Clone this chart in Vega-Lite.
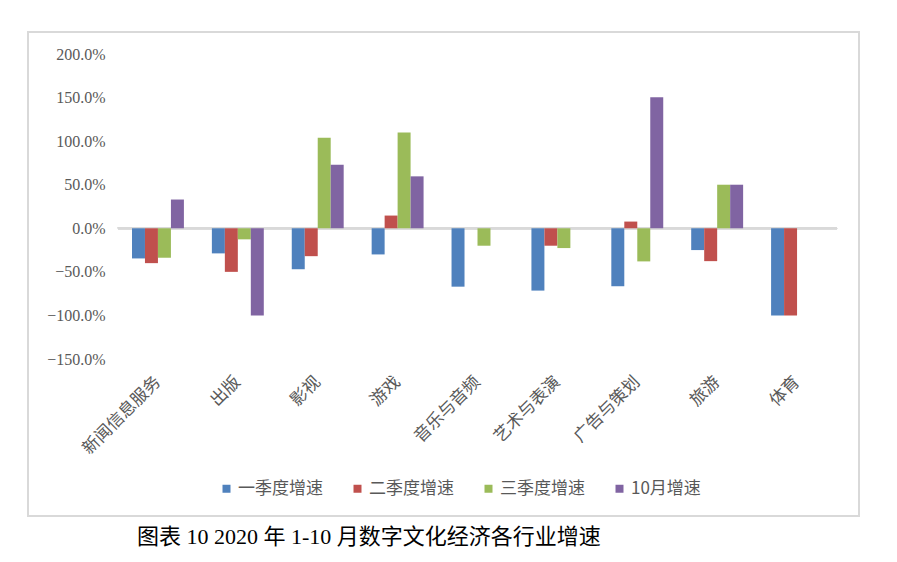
{
  "$schema": "https://vega.github.io/schema/vega-lite/v6.json",
  "width": 831,
  "height": 484,
  "autosize": {"type": "none"},
  "padding": {"left": 28, "top": 32, "right": 38, "bottom": 46},
  "background": "white",
  "config": {
    "view": {"stroke": "#d9d9d9", "strokeWidth": 2},
    "font": "Liberation Serif, Noto Sans CJK SC"
  },
  "title": {
    "text": "图表 10 2020 年 1-10 月数字文化经济各行业增速",
    "orient": "bottom",
    "anchor": "start",
    "dx": 109,
    "offset": 11,
    "fontSize": 22,
    "fontWeight": "normal",
    "font": "Liberation Serif, Noto Sans CJK SC",
    "color": "#000000"
  },
  "data": {
    "values": [
      {"行业": "新闻信息服务", "系列": "一季度增速", "增速": -34.6},
      {"行业": "新闻信息服务", "系列": "二季度增速", "增速": -40},
      {"行业": "新闻信息服务", "系列": "三季度增速", "增速": -33.8},
      {"行业": "新闻信息服务", "系列": "10月增速", "增速": 33},
      {"行业": "出版", "系列": "一季度增速", "增速": -28.8},
      {"行业": "出版", "系列": "二季度增速", "增速": -50},
      {"行业": "出版", "系列": "三季度增速", "增速": -12.7},
      {"行业": "出版", "系列": "10月增速", "增速": -100},
      {"行业": "影视", "系列": "一季度增速", "增速": -47},
      {"行业": "影视", "系列": "二季度增速", "增速": -32},
      {"行业": "影视", "系列": "三季度增速", "增速": 104},
      {"行业": "影视", "系列": "10月增速", "增速": 73},
      {"行业": "游戏", "系列": "一季度增速", "增速": -30},
      {"行业": "游戏", "系列": "二季度增速", "增速": 14.6},
      {"行业": "游戏", "系列": "三季度增速", "增速": 110},
      {"行业": "游戏", "系列": "10月增速", "增速": 59.6},
      {"行业": "音乐与音频", "系列": "一季度增速", "增速": -67},
      {"行业": "音乐与音频", "系列": "三季度增速", "增速": -20},
      {"行业": "艺术与表演", "系列": "一季度增速", "增速": -71.5},
      {"行业": "艺术与表演", "系列": "二季度增速", "增速": -20},
      {"行业": "艺术与表演", "系列": "三季度增速", "增速": -22.7},
      {"行业": "广告与策划", "系列": "一季度增速", "增速": -66.5},
      {"行业": "广告与策划", "系列": "二季度增速", "增速": 7.7},
      {"行业": "广告与策划", "系列": "三季度增速", "增速": -38},
      {"行业": "广告与策划", "系列": "10月增速", "增速": 150.4},
      {"行业": "旅游", "系列": "一季度增速", "增速": -25},
      {"行业": "旅游", "系列": "二季度增速", "增速": -37.7},
      {"行业": "旅游", "系列": "三季度增速", "增速": 50},
      {"行业": "旅游", "系列": "10月增速", "增速": 50},
      {"行业": "体育", "系列": "一季度增速", "增速": -100},
      {"行业": "体育", "系列": "二季度增速", "增速": -100}
    ]
  },
  "layer": [
    {
      "mark": {"type": "rule", "color": "#d9d9d9", "strokeWidth": 2},
      "encoding": {
        "y": {"datum": 0, "type": "quantitative"},
        "x": {"datum": "新闻信息服务", "type": "nominal", "bandPosition": -0.27},
        "x2": {"datum": "体育", "bandPosition": 1.27}
      }
    },
    {
      "mark": {"type": "bar"},
      "encoding": {
        "x": {
          "field": "行业",
          "type": "nominal",
          "sort": ["新闻信息服务", "出版", "影视", "游戏", "音乐与音频", "艺术与表演", "广告与策划", "旅游", "体育"],
          "scale": {"range": [90, 809], "paddingInner": 0.35, "paddingOuter": 0.175},
          "axis": {
            "title": null,
            "domain": false,
            "ticks": false,
            "labelAngle": -45,
            "labelAlign": "right",
            "labelBaseline": "middle",
            "labelPadding": 0,
            "offset": -137,
            "labelFontSize": 17,
            "labelColor": "#595959",
            "labelFont": "Noto Sans CJK SC"
          }
        },
        "xOffset": {
          "field": "系列",
          "type": "nominal",
          "scale": {"domain": ["一季度增速", "二季度增速", "三季度增速", "10月增速"]}
        },
        "y": {
          "field": "增速",
          "type": "quantitative",
          "scale": {"domain": [-150, 200], "range": [327, 22]},
          "axis": {
            "title": null,
            "domain": false,
            "ticks": false,
            "grid": false,
            "values": [-150, -100, -50, 0, 50, 100, 150, 200],
            "labelExpr": "format(datum.value, '.1f') + '%'",
            "labelPadding": 2,
            "offset": -79,
            "labelFontSize": 16,
            "labelColor": "#595959",
            "labelFont": "Liberation Serif"
          }
        },
        "color": {
          "field": "系列",
          "type": "nominal",
          "scale": {
            "domain": ["一季度增速", "二季度增速", "三季度增速", "10月增速"],
            "range": ["#4F81BD", "#C0504D", "#9BBB59", "#8064A2"]
          },
          "legend": {
            "title": null,
            "orient": "none",
            "direction": "horizontal",
            "legendX": 190,
            "legendY": 448,
            "symbolType": "square",
            "symbolSize": 64,
            "symbolStrokeWidth": 0,
            "labelFontSize": 17,
            "labelColor": "#595959",
            "labelFont": "Noto Sans CJK SC",
            "columnPadding": 26,
            "labelOffset": 3
          }
        }
      }
    }
  ]
}
